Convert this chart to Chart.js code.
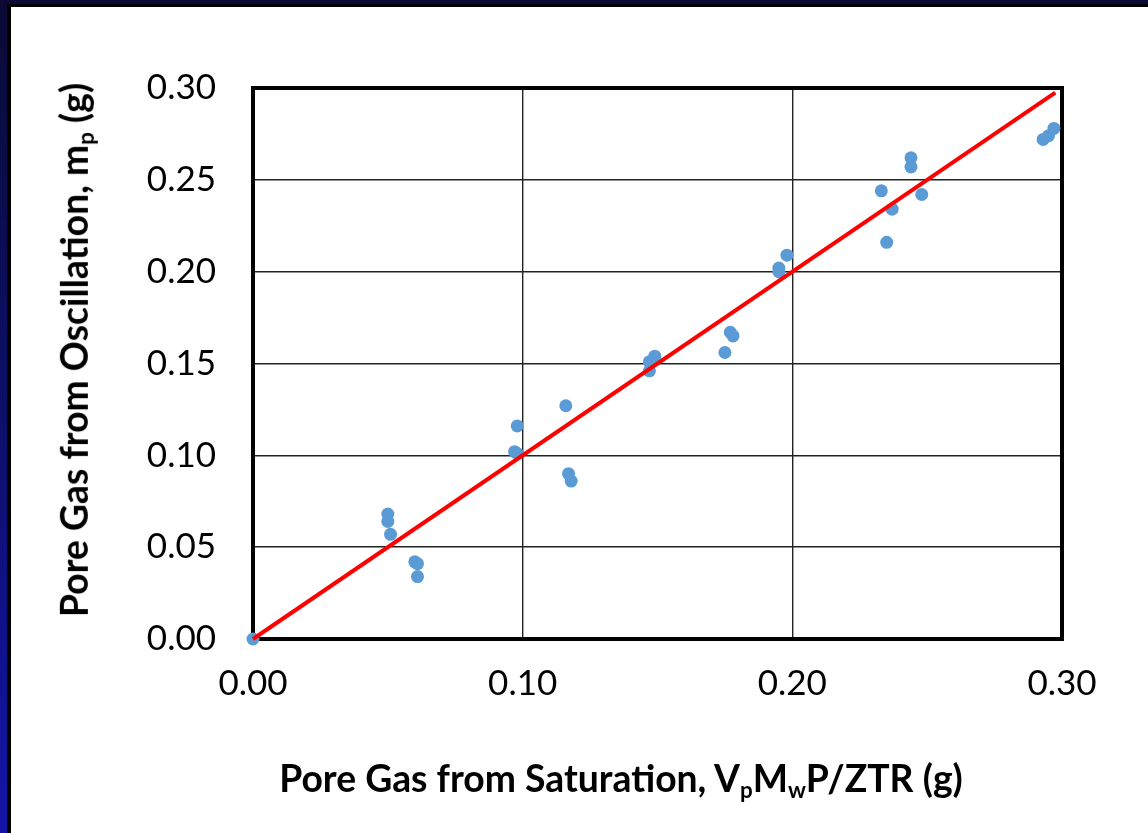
<!DOCTYPE html>
<html>
<head>
<meta charset="utf-8">
<script src="https://cdn.jsdelivr.net/npm/chart.js@4"></script>
<style>
  html, body { margin: 0; padding: 0; }
  body {
    width: 1148px; height: 833px; overflow: hidden; position: relative;
    background: linear-gradient(to bottom, #0a0a35 0%, #0d0f6a 50%, #1414a8 100%);
  }
  #frame {
    position: absolute; left: 7px; top: 4px; right: 0; bottom: 0;
    background: #000;
  }
  #panel {
    position: absolute; left: 11px; top: 7px; width: 1137px; height: 826px;
    background: #fff;
  }
  .axis-title {
    position: absolute; font-family: Lato, "Open Sans", sans-serif; font-weight: bold;
    font-size: 37.3px; line-height: 44px; color: #000; white-space: nowrap;
  }
  .axis-title sub { font-size: 0.6em; vertical-align: -0.28em; }
  #xTitle { left: 621px; top: 756px; transform: translateX(-50%); }
  #yTitle { left: 80px; top: 350px; transform: translate(-50%, -50%) rotate(-90deg); }
</style>
</head>
<body>
<div id="frame"></div>
<div id="panel">
  <canvas id="chart" width="1137" height="826"></canvas>
</div>
<div class="axis-title" id="xTitle">Pore Gas from Saturation, V<sub>p</sub>M<sub>w</sub>P/ZTR (g)</div>
<div class="axis-title" id="yTitle">Pore Gas from Oscillation, m<sub>p</sub> (g)</div>
<script>
// measured points: gas from saturation (x) vs gas from oscillation (y)
const satX = [0.000, 0.050, 0.050, 0.051, 0.060, 0.061, 0.061, 0.097, 0.098, 0.098, 0.116,
              0.117, 0.118, 0.147, 0.147, 0.149, 0.175, 0.177, 0.178, 0.195, 0.195, 0.198,
              0.233, 0.235, 0.237, 0.244, 0.244, 0.248, 0.293, 0.295, 0.297];
const oscY = [0.000, 0.068, 0.064, 0.057, 0.042, 0.041, 0.034, 0.102, 0.101, 0.116, 0.127,
              0.090, 0.086, 0.151, 0.146, 0.154, 0.156, 0.167, 0.165, 0.202, 0.200, 0.209,
              0.244, 0.216, 0.234, 0.262, 0.257, 0.242, 0.272, 0.274, 0.278];

// 1:1 line
const lineX = [0, 0.2975];
const lineY = [0, 0.2975];

const xTicks = [0.00, 0.10, 0.20, 0.30];
const yTicks = [0.00, 0.05, 0.10, 0.15, 0.20, 0.25, 0.30];

// box round the plot area
const plotBox = {
  id: 'plotBox',
  beforeDatasetsDraw(chart) {
    const a = chart.chartArea;
    const ctx = chart.ctx;
    ctx.save();
    ctx.strokeStyle = '#000';
    ctx.lineWidth = 4;
    ctx.strokeRect(a.left, a.top, a.right - a.left, a.bottom - a.top);
    ctx.restore();
  }
};

new Chart(document.getElementById('chart'), {
  type: 'scatter',
  data: {
    datasets: [
      {
        label: 'Data',
        data: satX.map((x, i) => ({ x: x, y: oscY[i] })),
        backgroundColor: '#5b9bd5',
        borderColor: '#5b9bd5',
        pointRadius: 6.5,
        borderWidth: 0,
        clip: false,
        order: 2
      },
      {
        label: '1:1',
        type: 'line',
        data: lineX.map((x, i) => ({ x: x, y: lineY[i] })),
        borderColor: '#ff0000',
        borderWidth: 4,
        pointRadius: 0,
        fill: false,
        clip: false,
        order: 1
      }
    ]
  },
  options: {
    responsive: false,
    animation: false,
    layout: { padding: { left: 0, top: 81, right: 86, bottom: 0 } },
    plugins: { legend: { display: false }, tooltip: { enabled: false } },
    scales: {
      x: {
        type: 'linear', min: 0, max: 0.3,
        afterBuildTicks: s => { s.ticks = xTicks.map(v => ({ value: v })); },
        afterFit: s => { s.height = 194; },
        grid: { color: '#222', lineWidth: 1.4, drawTicks: false },
        border: { display: false },
        ticks: {
          padding: 24, color: '#000',
          font: { family: 'Lato', size: 35 },
          callback: v => v.toFixed(2)
        }
      },
      y: {
        type: 'linear', min: 0, max: 0.3,
        afterBuildTicks: s => { s.ticks = yTicks.map(v => ({ value: v })); },
        afterFit: s => { s.width = 242; },
        grid: { color: '#222', lineWidth: 1.4, drawTicks: false },
        border: { display: false },
        ticks: {
          padding: 37, color: '#000',
          font: { family: 'Lato', size: 35 },
          callback: v => v.toFixed(2)
        }
      }
    }
  },
  plugins: [plotBox]
});
</script>
</body>
</html>
